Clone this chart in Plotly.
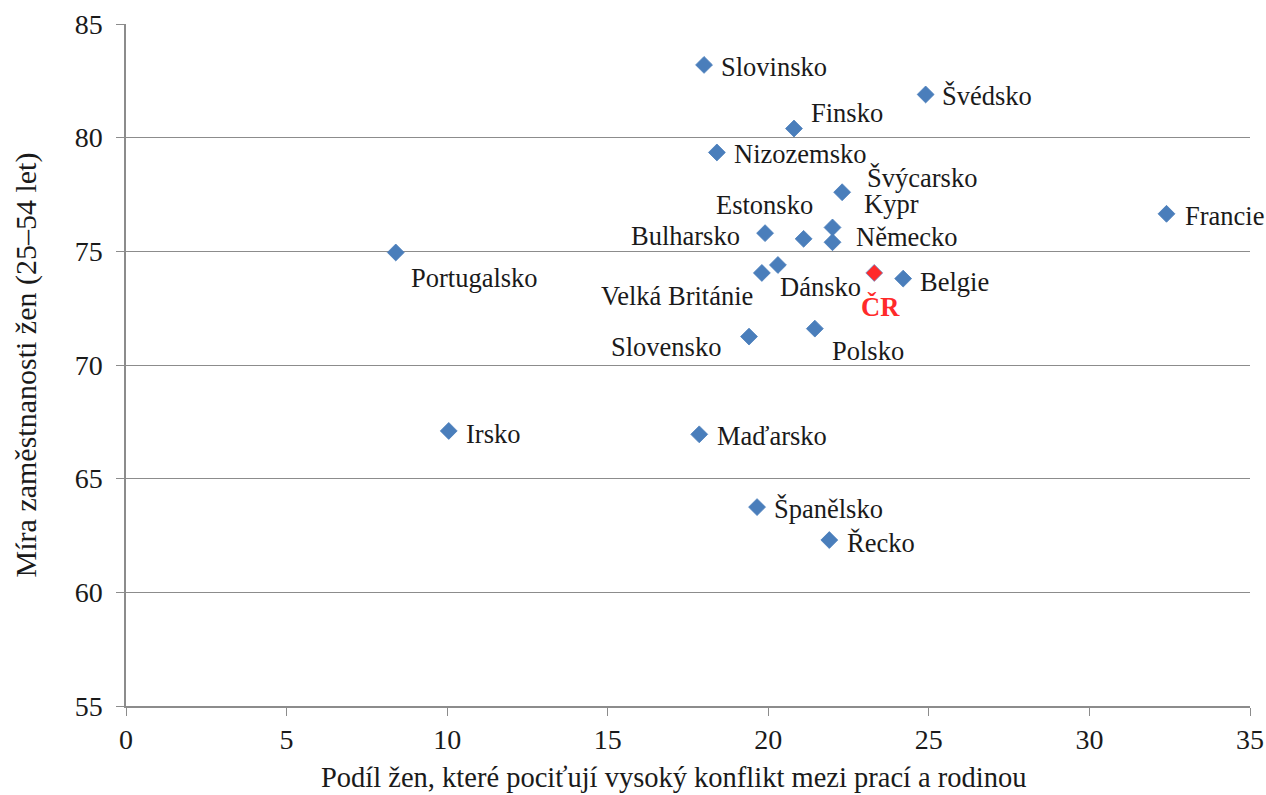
import plotly.graph_objects as go

countries = ["Slovinsko", "Švédsko", "Finsko", "Nizozemsko", "Švýcarsko", "Kypr",
             "Bulharsko", "Estonsko", "Německo", "Velká Británie", "Dánsko", "ČR",
             "Belgie", "Francie", "Portugalsko", "Slovensko", "Polsko", "Irsko",
             "Maďarsko", "Španělsko", "Řecko"]
conflict = [18.0, 24.9, 20.8, 18.4, 22.3, 22.0,
            19.9, 21.1, 22.0, 19.8, 20.3, 23.3,
            24.2, 32.4, 8.4, 19.4, 21.45, 10.05,
            17.85, 19.65, 21.9]
employment = [83.2, 81.9, 80.4, 79.35, 77.6, 76.05,
              75.8, 75.55, 75.4, 74.05, 74.4, 74.05,
              73.8, 76.65, 74.95, 71.25, 71.6, 67.1,
              66.95, 63.75, 62.3]

# label placement (style): anchor, pixel dx, pixel dy (down positive)
label_anchor = ["left", "left", "left", "left", "left", "left",
                "right", "center", "left", "right", "left", "center",
                "left", "left", "left", "right", "left", "left",
                "left", "left", "left"]
label_dx = [15, 14, 15, 15, 23, 29, -23, -39, 21, -7, 0, 6, 15, 16, 13, -26, 15, 15, 16, 15, 16]
label_dy = [2, 2, -16, 2, -14, -23, 3, -34, -5, 23, 22, 34, 3, 2, 26, 10, 22, 3, 2, 2, 3]

x_ticks = [0, 5, 10, 15, 20, 25, 30, 35]
y_ticks = [55, 60, 65, 70, 75, 80, 85]

x_title = "Podíl žen, které pociťují vysoký konflikt mezi prací a rodinou"
y_title = "Míra zaměstnanosti žen (25–54 let)"

BLUE = "#4A7EBB"
RED = "#FF2A2A"
FONT = "Liberation Serif"
FS = 26.5

colors = [RED if c == "ČR" else BLUE for c in countries]
edges = ["#6a8fc8" if c == "ČR" else BLUE for c in countries]

fig = go.Figure()
fig.add_trace(go.Scatter(
    x=conflict, y=employment, mode="markers",
    marker=dict(symbol="diamond", size=13, color=colors,
                line=dict(color=edges, width=0.8)),
    hoverinfo="text", text=countries, showlegend=False,
))

for c, xv, yv, anc, dx, dy in zip(countries, conflict, employment, label_anchor, label_dx, label_dy):
    is_cr = c == "ČR"
    fig.add_annotation(
        x=xv, y=yv, xref="x", yref="y", text=f"<b>{c}</b>" if is_cr else c,
        showarrow=False, xanchor=anc, yanchor="middle",
        xshift=dx, yshift=-dy,
        font=dict(family=FONT, size=FS, color=RED if is_cr else "#1a1a1a"),
    )

# x-axis title (slightly left of centre, as in the reference)
fig.add_annotation(
    x=0.4875, y=0, xref="paper", yref="paper", text=x_title, showarrow=False,
    xanchor="center", yanchor="middle", yshift=-71,
    font=dict(family=FONT, size=28.5, color="#1a1a1a"),
)

fig.update_layout(
    width=1266, height=795,
    margin=dict(l=126, r=16, t=24, b=89),
    plot_bgcolor="white", paper_bgcolor="white",
    font=dict(family=FONT, size=FS, color="#1a1a1a"),
)
fig.update_xaxes(
    range=[0, 35], tickvals=x_ticks, showgrid=False, zeroline=False,
    showline=True, linecolor="#8c8c8c", linewidth=1.5,
    ticks="outside", ticklen=8, tickcolor="#8c8c8c",
    tickfont=dict(family=FONT, size=28), automargin=False,
    ticklabeloverflow="allow",
)
fig.update_yaxes(
    range=[55, 85], tickvals=y_ticks, showgrid=True, gridcolor="#8c8c8c", gridwidth=1,
    zeroline=False, showline=True, linecolor="#8c8c8c", linewidth=1.5,
    ticks="outside", ticklen=8, tickcolor="#8c8c8c",
    tickfont=dict(family=FONT, size=28), automargin=False,
    ticklabelstandoff=8,
    title=dict(text=y_title, font=dict(family=FONT, size=30), standoff=29),
)

fig.write_html("out.html", config={"displayModeBar": False},
               post_script="document.body.style.margin='0';")
